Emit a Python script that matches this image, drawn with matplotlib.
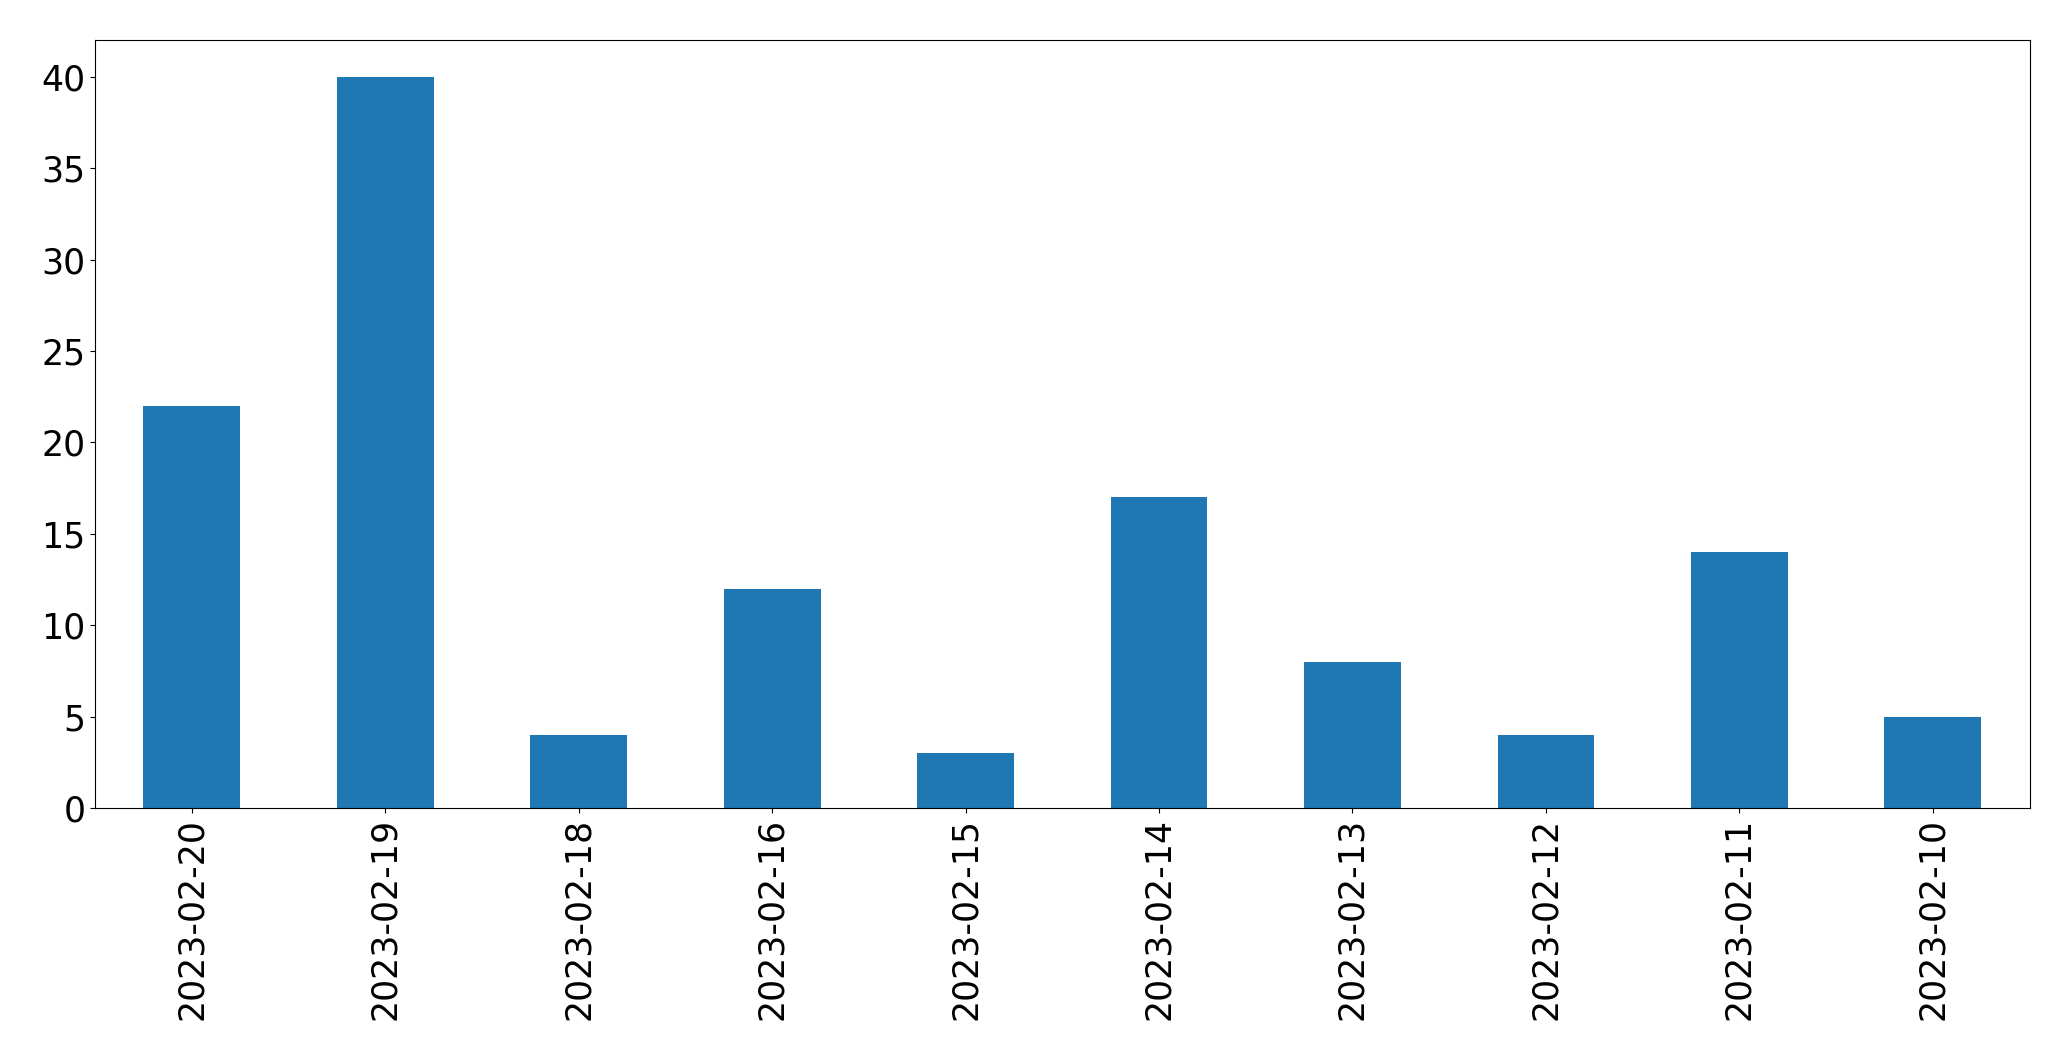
import matplotlib
matplotlib.use('Agg')
import matplotlib.pyplot as plt
import pandas as pd

dates = ['2023-02-20', '2023-02-19', '2023-02-18', '2023-02-16', '2023-02-15',
         '2023-02-14', '2023-02-13', '2023-02-12', '2023-02-11', '2023-02-10']
counts = [22, 40, 4, 12, 3, 17, 8, 4, 14, 5]

plt.rcParams.update({'font.size': 25})
fig = plt.figure(figsize=(20.71, 10.61), dpi=100)
ax = fig.add_axes([0.0459, 0.2385, 0.9341, 0.7235])
pd.Series(counts, index=dates).plot.bar(ax=ax, color='#1f77b4')
ax.tick_params(labelsize=25)
fig.savefig('out.png', dpi=100)
